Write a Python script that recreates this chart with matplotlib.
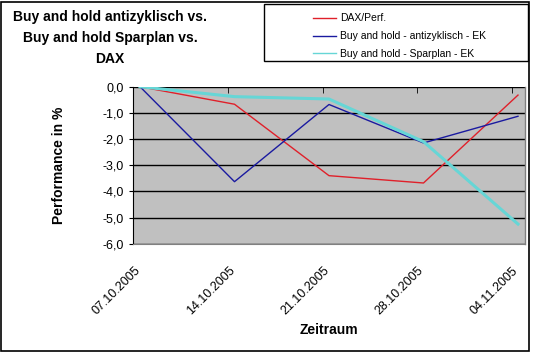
import matplotlib
matplotlib.use("Agg")
import matplotlib.pyplot as plt
from matplotlib.patches import Rectangle
from matplotlib.transforms import ScaledTranslation

plt.rcParams['font.family'] = ['Liberation Sans', 'DejaVu Sans']

dates = ["07.10.2005", "14.10.2005", "21.10.2005", "28.10.2005", "04.11.2005"]
dax = [0.0, -0.67, -3.40, -3.68, -0.32]
antizyklisch = [0.0, -3.63, -0.68, -2.15, -1.13]
sparplan = [0.0, -0.38, -0.47, -2.10, -5.25]
yticks = [0, -1, -2, -3, -4, -5, -6]

W, H = 534, 354
fig = plt.figure(figsize=(W/100, H/100), dpi=100)
fig.patch.set_facecolor('white')
fig.patches.append(Rectangle((1/W, 1 - 351/H), 528/W, 349/H, transform=fig.transFigure,
                             fill=False, edgecolor='black', linewidth=1.2))
# legend frame
fig.patches.append(Rectangle((264/W, 1 - 61/H), 264/W, 57/H, transform=fig.transFigure,
                             fill=False, edgecolor='black', linewidth=1.0))

ax = fig.add_axes([133/W, 1 - 243.7/H, (525-133)/W, (243.7-86.7)/H])
ax.set_facecolor('#c0c0c0')
x = list(range(len(dates)))
ax.plot(x, dax, color='#e0202a', lw=1.0, label='DAX/Perf.')
ax.plot(x, antizyklisch, color='#1a1aa0', lw=1.0, label='Buy and hold - antizyklisch - EK')
ax.plot(x, sparplan, color='#66d6d6', lw=2.2, label='Buy and hold - Sparplan - EK')

pad = 7/94.5
ax.set_xlim(-pad, len(dates)-1+pad)
ax.set_ylim(-6, 0)
ax.set_yticks(yticks)
ax.set_yticklabels([f"{v:.1f}".replace('.', ',') for v in yticks], fontsize=9)
ax.yaxis.grid(True, color='black', lw=1.0)
ax.set_axisbelow(True)
ax.set_xticks(x)
ax.set_xticklabels(dates, rotation=45, ha='right', va='top', rotation_mode='anchor', fontsize=9)
ax.tick_params(axis='x', length=0, pad=15)
off = ScaledTranslation(-6/100, 0, fig.dpi_scale_trans)
for lab in ax.get_xticklabels():
    lab.set_transform(lab.get_transform() + off)
ax.tick_params(axis='y', length=3, direction='out')
ax.set_xticks([i - 0.065 for i in range(1, len(dates))], minor=True)
ax.tick_params(axis='x', which='minor', top=True, bottom=False, direction='in', length=4, color='black')
for s in ['top', 'right']:
    ax.spines[s].set_visible(False)
ax.spines['left'].set_color('black')
ax.spines['bottom'].set_color('#808080')
ax.plot([1, 1], [0, 1], transform=ax.transAxes, color='#808080', lw=1.0, clip_on=False)

ax.set_ylabel('Performance in %', fontsize=10, fontweight='bold', labelpad=26)
ax.set_xlabel('Zeitraum', fontsize=10, fontweight='bold', labelpad=4)

fig.text(110/W, 1 - 38/H, "Buy and hold antizyklisch vs.\nBuy and hold Sparplan vs.\nDAX",
         ha='center', va='center', fontsize=10, fontweight='bold', linespacing=1.6)

leg = fig.legend(loc='upper left', bbox_to_anchor=(304/W, 1 - 4/H), frameon=False,
                 fontsize=7.5, handlelength=2.2, handletextpad=0.4, borderpad=0.4,
                 labelspacing=0.75)
for h in leg.legend_handles:
    h.set_linewidth(1.0)

fig.savefig('out.png', dpi=100, facecolor='white')
